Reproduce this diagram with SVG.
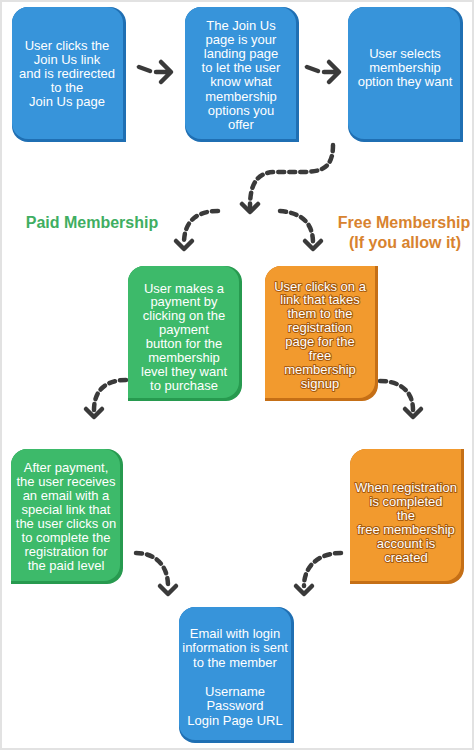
<svg xmlns="http://www.w3.org/2000/svg" width="474" height="750" viewBox="0 0 474 750">
<style>
.bd{fill:#1f6fb3}.bf{fill:#3794da}
.gd{fill:#279a4f}.gf{fill:#3dba6a}
.od{fill:#c56f16}.of{fill:#f29a2e}
.t{font-family:"Liberation Sans",Arial,sans-serif;font-size:13px;fill:#fff;text-anchor:middle}
.to{stroke:#a85a0c;stroke-width:2;paint-order:stroke;stroke-linejoin:round}
.lbl{font-family:"Liberation Sans",Arial,sans-serif;font-size:16px;font-weight:bold;text-anchor:middle}
.c{fill:none;stroke:#3a3a3a;stroke-width:4.5;stroke-linecap:round;stroke-linejoin:round}
.d{stroke-dasharray:6 5}
</style>
<rect x="1" y="1" width="472" height="748" fill="#fff" stroke="#e2e2e2" stroke-width="2"/>
<g id="connectors">
<path class="c" d="M139,67 L150,71"/>
<path class="c" d="M156,72 L169,72 M161,62 L171,72 L161,82"/>
<path class="c" d="M307,67 L318,71"/>
<path class="c" d="M324,72 L337,72 M329,62 L339,72 L329,82"/>
<path class="c d" d="M333,145 C333,168 322,172 302,172 L276,172 C256,172 250,185 250,207"/>
<path class="c" d="M242,204 L250,212 L258,204"/>
<path class="c d" d="M218,211 C196,211 184,222 184,243"/>
<path class="c" d="M176,241 L184,249 L192,241"/>
<path class="c d" d="M280,211 C304,213 313,225 313,243"/>
<path class="c" d="M305,241 L313,249 L321,241"/>
<path class="c d" d="M126,380 C105,380 94,391 94,410"/>
<path class="c" d="M86,409 L94,417 L102,409"/>
<path class="c d" d="M380,381 C401,381 413,392 413,410"/>
<path class="c" d="M405,409 L413,417 L421,409"/>
<path class="c d" d="M136,553 C155,553 168,565 168,586"/>
<path class="c" d="M160,586 L168,594 L176,586"/>
<path class="c d" d="M341,553 C320,553 304,565 304,586"/>
<path class="c" d="M296,586 L304,594 L312,586"/>
</g>
<g id="n1">
<path class="bd" d="M28,7 H110 A16,16 0 0 1 126,23 V142 H28 A16,16 0 0 1 12,126 V23 A16,16 0 0 1 28,7 Z"/>
<path class="bf" d="M28,7 H107 A16,16 0 0 1 123,23 V139 H28 A16,16 0 0 1 12,123 V23 A16,16 0 0 1 28,7 Z"/>
<text class="t"><tspan x="67" y="49.5">User clicks the</tspan><tspan x="67" y="63.7">Join Us link</tspan><tspan x="67" y="77.9">and is redirected</tspan><tspan x="67" y="92.1">to the</tspan><tspan x="67" y="106.3">Join Us page</tspan></text>
</g>
<g id="n2">
<path class="bd" d="M201,7 H283 A16,16 0 0 1 299,23 V142 H201 A16,16 0 0 1 185,126 V23 A16,16 0 0 1 201,7 Z"/>
<path class="bf" d="M201,7 H280 A16,16 0 0 1 296,23 V139 H201 A16,16 0 0 1 185,123 V23 A16,16 0 0 1 201,7 Z"/>
<text class="t"><tspan x="241" y="29.5">The Join Us</tspan><tspan x="241" y="43.7">page is your</tspan><tspan x="241" y="57.9">landing page</tspan><tspan x="241" y="72.1">to let the user</tspan><tspan x="241" y="86.3">know what</tspan><tspan x="241" y="100.5">membership</tspan><tspan x="241" y="114.7">options you</tspan><tspan x="241" y="128.9">offer</tspan></text>
</g>
<g id="n3">
<path class="bd" d="M364,7 H447 A16,16 0 0 1 463,23 V142 H364 A16,16 0 0 1 348,126 V23 A16,16 0 0 1 364,7 Z"/>
<path class="bf" d="M364,7 H444 A16,16 0 0 1 460,23 V139 H364 A16,16 0 0 1 348,123 V23 A16,16 0 0 1 364,7 Z"/>
<text class="t"><tspan x="405" y="57.5">User selects</tspan><tspan x="405" y="71.7">membership</tspan><tspan x="405" y="85.9">option they want</tspan></text>
</g>
<g id="lbl-paid"><text class="lbl" x="92" y="228" fill="#3fae62">Paid Membership</text></g>
<g id="lbl-free"><text class="lbl" fill="#d8832f"><tspan x="404" y="228">Free Membership</tspan><tspan x="405" y="248">(If you allow it)</tspan></text></g>
<g id="n4">
<path class="gd" d="M144,266 H226 A16,16 0 0 1 242,282 V385 A16,16 0 0 1 226,401 H128 V282 A16,16 0 0 1 144,266 Z"/>
<path class="gf" d="M144,266 H223 A16,16 0 0 1 239,282 V382 A16,16 0 0 1 223,398 H128 V282 A16,16 0 0 1 144,266 Z"/>
<text class="t"><tspan x="184" y="292.5">User makes a</tspan><tspan x="184" y="306.4">payment by</tspan><tspan x="184" y="320.3">clicking on the</tspan><tspan x="184" y="334.2">payment</tspan><tspan x="184" y="348.1">button for the</tspan><tspan x="184" y="362">membership</tspan><tspan x="184" y="375.9">level they want</tspan><tspan x="184" y="389.8">to purchase</tspan></text>
</g>
<g id="n5">
<path class="od" d="M281,266 H378 V385 A16,16 0 0 1 362,401 H265 V282 A16,16 0 0 1 281,266 Z"/>
<path class="of" d="M281,266 H375 V382 A16,16 0 0 1 359,398 H265 V282 A16,16 0 0 1 281,266 Z"/>
<text class="t to"><tspan x="320" y="290.5">User clicks on a</tspan><tspan x="320" y="304.4">link that takes</tspan><tspan x="320" y="318.3">them to the</tspan><tspan x="320" y="332.2">registration</tspan><tspan x="320" y="346.1">page for the</tspan><tspan x="320" y="360">free</tspan><tspan x="320" y="373.9">membership</tspan><tspan x="320" y="387.8">signup</tspan></text>
</g>
<g id="n6">
<path class="gd" d="M27,449 H107 A16,16 0 0 1 123,465 V568 A16,16 0 0 1 107,584 H11 V465 A16,16 0 0 1 27,449 Z"/>
<path class="gf" d="M27,449 H104 A16,16 0 0 1 120,465 V565 A16,16 0 0 1 104,581 H11 V465 A16,16 0 0 1 27,449 Z"/>
<text class="t"><tspan x="66" y="471.5">After payment,</tspan><tspan x="66" y="485.5">the user receives</tspan><tspan x="66" y="499.5">an email with a</tspan><tspan x="66" y="513.5">special link that</tspan><tspan x="66" y="527.5">the user clicks on</tspan><tspan x="66" y="541.5">to complete the</tspan><tspan x="66" y="555.5">registration for</tspan><tspan x="66" y="569.5">the paid level</tspan></text>
</g>
<g id="n7">
<path class="od" d="M366,449 H464 V568 A16,16 0 0 1 448,584 H350 V465 A16,16 0 0 1 366,449 Z"/>
<path class="of" d="M366,449 H461 V565 A16,16 0 0 1 445,581 H350 V465 A16,16 0 0 1 366,449 Z"/>
<text class="t to"><tspan x="406" y="491.5">When registration</tspan><tspan x="406" y="505.5">is completed</tspan><tspan x="406" y="519.5">the</tspan><tspan x="406" y="533.5">free membership</tspan><tspan x="406" y="547.5">account is</tspan><tspan x="406" y="561.5">created</tspan></text>
</g>
<g id="n8">
<path class="bd" d="M195,607 H278 A16,16 0 0 1 294,623 V743 H195 A16,16 0 0 1 179,727 V623 A16,16 0 0 1 195,607 Z"/>
<path class="bf" d="M195,607 H275 A16,16 0 0 1 291,623 V740 H195 A16,16 0 0 1 179,724 V623 A16,16 0 0 1 195,607 Z"/>
<text class="t"><tspan x="235" y="637.5">Email with login</tspan><tspan x="235" y="652">information is sent</tspan><tspan x="235" y="666.5">to the member</tspan><tspan x="235" y="695.5">Username</tspan><tspan x="235" y="710">Password</tspan><tspan x="235" y="724.5">Login Page URL</tspan></text>
</g>
</svg>
